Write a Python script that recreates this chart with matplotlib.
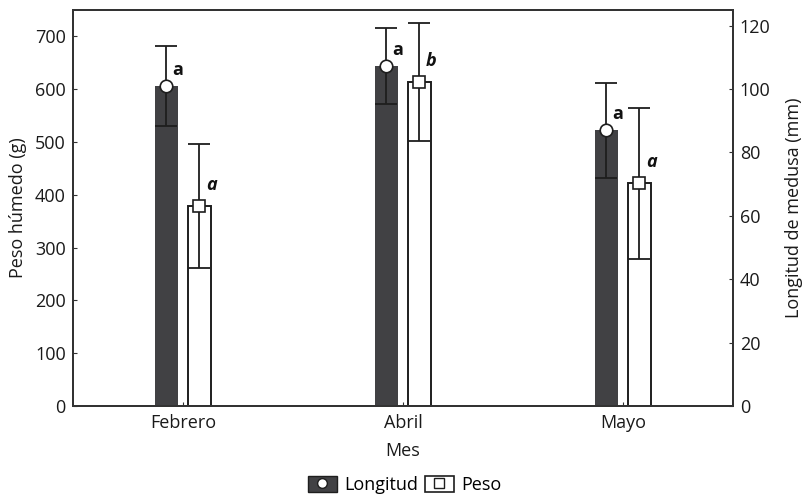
import matplotlib.pyplot as plt
from matplotlib.patches import Patch
from matplotlib.lines import Line2D
import numpy as np

plt.rcParams['font.family'] = ['Open Sans', 'DejaVu Sans']

# Datos
meses = ['Febrero', 'Abril', 'Mayo']
longitud = [101, 107.3, 87]        # mm
longitud_err = [12.5, 12, 15]
peso = [379, 614, 422]             # g
peso_err = [117, 112, 143]
letras_longitud = ['a', 'a', 'a']
letras_peso = ['a', 'b', 'a']

x = np.arange(len(meses))
ancho = 0.104
desp = 0.075
gris = '#414144'
linea = '#1e1e1e'
fs = 13

fig = plt.figure(figsize=(8.09, 4.98), dpi=100)
ax = fig.add_axes([0.090, 0.185, 0.816, 0.795])
ax2 = ax.twinx()

# Peso en eje izquierdo (barras blancas)
ax.bar(x + desp, peso, width=ancho, color='white', edgecolor=linea, linewidth=1.4, zorder=2)
ax.errorbar(x + desp, peso, yerr=peso_err, fmt='none', ecolor=linea, elinewidth=1.3,
            capsize=8, capthick=1.3, zorder=3)
ax.plot(x + desp, peso, 's', color='white', markeredgecolor=linea, markersize=9,
        markeredgewidth=1.2, zorder=4)
for xi, v, t in zip(x, peso, letras_peso):
    ax.text(xi + desp + 0.03, v + 22, t, fontsize=fs, fontweight='bold', fontstyle='italic',
            ha='left', va='bottom', color='#111111', zorder=5)

# Longitud en eje derecho (barras oscuras)
ax2.bar(x - desp, longitud, width=ancho, color=gris, edgecolor='none', zorder=2)
ax2.errorbar(x - desp, longitud, yerr=longitud_err, fmt='none', ecolor=linea, elinewidth=1.3,
             capsize=8, capthick=1.3, zorder=3)
ax2.plot(x - desp, longitud, 'o', color='white', markeredgecolor=linea, markersize=9,
         markeredgewidth=1.2, zorder=4)
for xi, v, t in zip(x, longitud, letras_longitud):
    ax2.text(xi - desp + 0.028, v + 2.2, t, fontsize=fs, fontweight='bold',
             ha='left', va='bottom', color='#111111', zorder=5)

ax.set_xlim(-0.5, 2.5)
ax.set_ylim(0, 750)
ax2.set_ylim(0, 125)
ax.set_yticks(range(0, 701, 100))
ax2.set_yticks(range(0, 121, 20))
ax.set_xticks(x)
ax.set_xticklabels(meses)

for a in (ax, ax2):
    a.tick_params(direction='in', length=3, width=0.8, labelsize=fs, colors='#333333',
                  labelcolor='#1a1a1a')
    for s in a.spines.values():
        s.set_linewidth(1.4)
        s.set_color('#333333')
ax.tick_params(axis='x', pad=6)
ax.tick_params(axis='y', pad=5)
ax2.tick_params(axis='y', pad=5)

ax.set_xlabel('Mes', fontsize=fs, color='#1a1a1a', labelpad=7)
ax.set_ylabel('Peso húmedo (g)', fontsize=fs, color='#1a1a1a', labelpad=6)
ax2.set_ylabel('Longitud de medusa (mm)', fontsize=fs, color='#1a1a1a', labelpad=10)

# Leyenda
h1 = (Patch(facecolor=gris, edgecolor=linea, linewidth=1),
      Line2D([], [], marker='o', color='white', markeredgecolor=linea, linestyle='none', markersize=7))
h2 = (Patch(facecolor='white', edgecolor=linea, linewidth=1.2),
      Line2D([], [], marker='s', color='white', markeredgecolor=linea, linestyle='none', markersize=7))
fig.legend([h1, h2], ['Longitud', 'Peso'], loc='lower center', bbox_to_anchor=(0.5, -0.025),
           ncol=2, frameon=False, fontsize=fs, handlelength=1.6, handleheight=1.0,
           columnspacing=0.4, handletextpad=0.4)

plt.savefig('out.png', dpi=100)
